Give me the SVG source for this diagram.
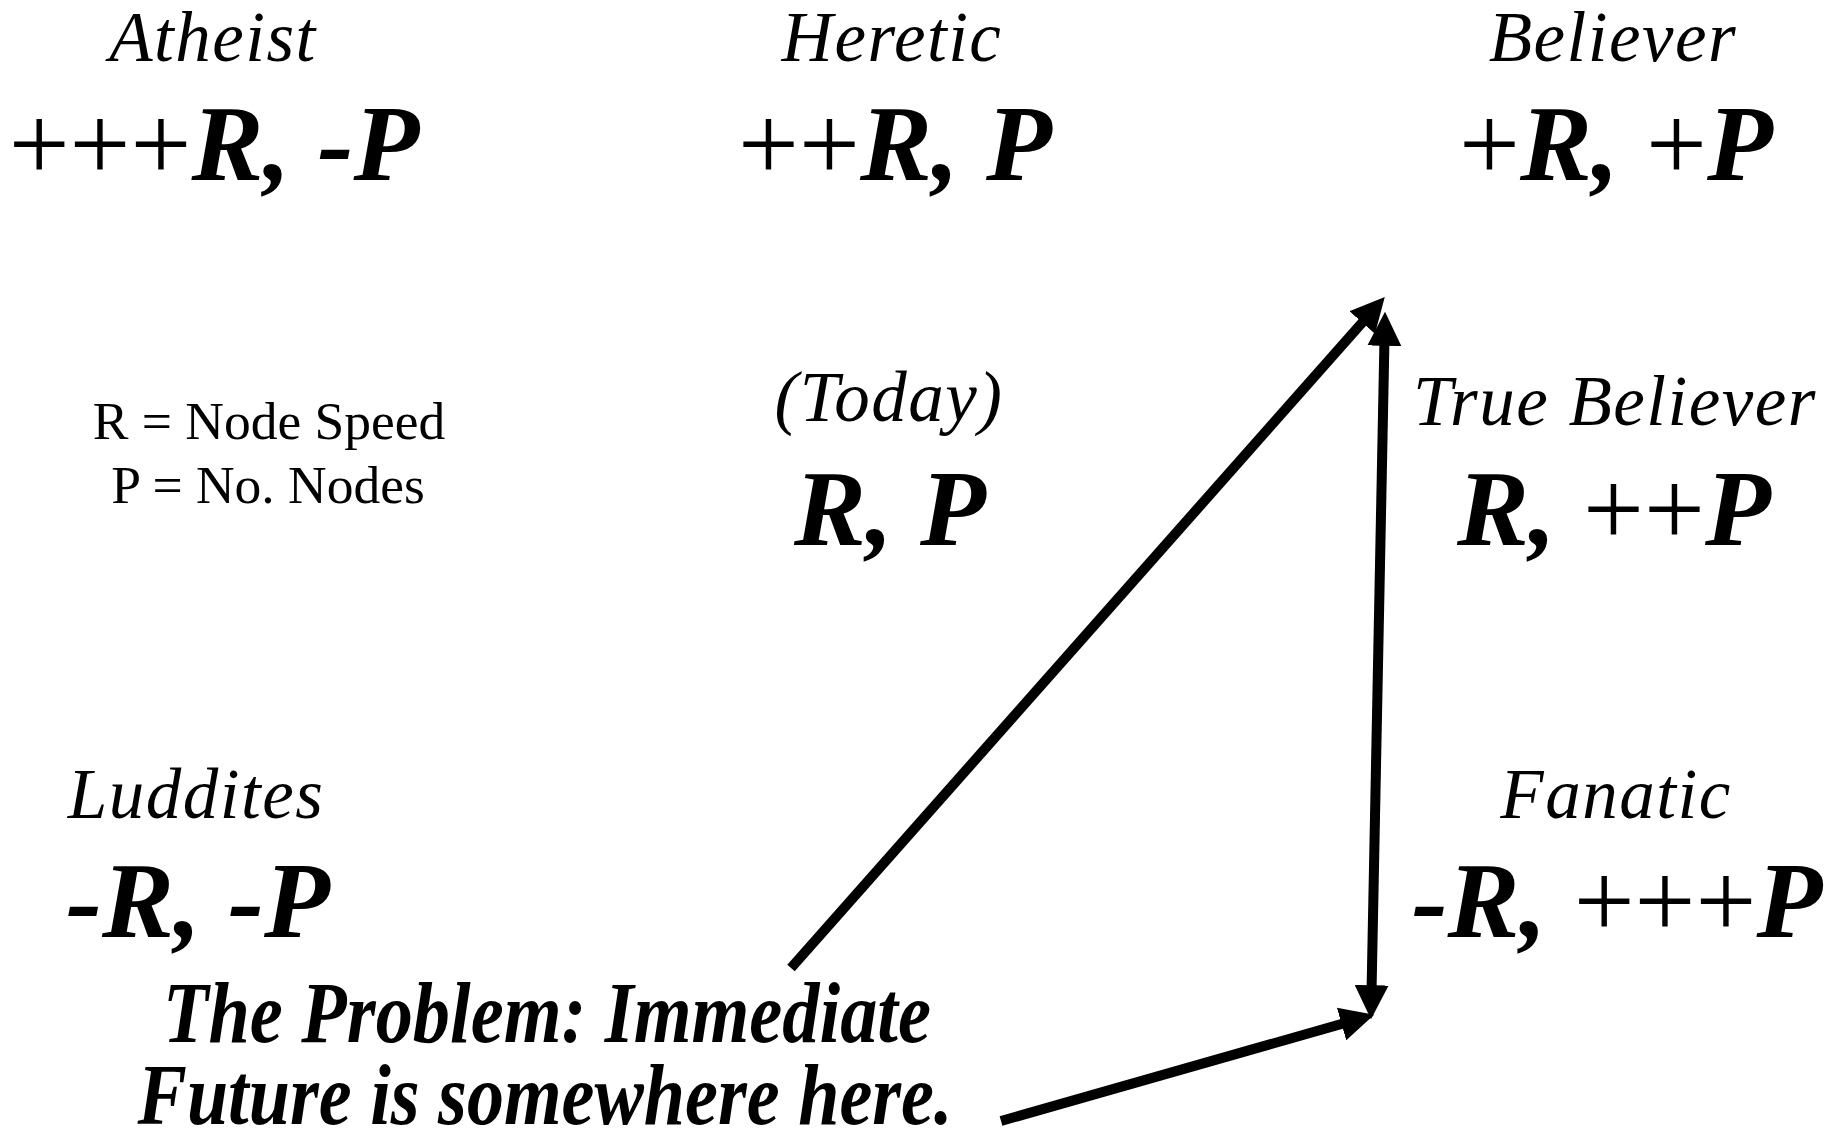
<svg xmlns="http://www.w3.org/2000/svg" width="1825" height="1137" viewBox="0 0 1825 1137">
<style>
text{font-family:"Liberation Serif","Times New Roman",serif;fill:#000;text-anchor:middle}
.lbl{font-style:italic;font-size:71px;letter-spacing:1.5px}
.val{font-size:108px}
.b{font-weight:bold;font-style:italic}
.key{font-size:53.5px}
.prob{font-size:86px;font-weight:bold;font-style:italic}
.conn{stroke:#000;stroke-width:10;fill:none}
</style>
<defs>
<marker id="ah" markerUnits="userSpaceOnUse" markerWidth="34" markerHeight="34" viewBox="0 0 32 32" refX="12" refY="16" orient="auto-start-reverse">
<path d="M0,0 L32,16 L0,32 z" fill="#000"/>
</marker>
</defs>
<rect width="1825" height="1137" fill="#fff"/>
<g id="atheist">
<text class="lbl" x="213" y="61">Atheist</text>
<text class="val" x="214" y="180">+++<tspan class="b">R, -P</tspan></text>
</g>
<g id="heretic">
<text class="lbl" x="892" y="61">Heretic</text>
<text class="val" x="895" y="180">++<tspan class="b">R, P</tspan></text>
</g>
<g id="believer">
<text class="lbl" x="1613" y="61">Believer</text>
<text class="val" x="1616" y="180">+<tspan class="b">R, </tspan>+<tspan class="b">P</tspan></text>
</g>
<g id="key">
<text class="key" x="269" y="439">R = Node Speed</text>
<text class="key" x="268" y="503">P = No. Nodes</text>
</g>
<g id="today">
<text class="lbl" x="889" y="421">(Today)</text>
<text class="val b" x="890" y="545">R, P</text>
</g>
<g id="true-believer">
<text class="lbl" x="1615" y="425">True Believer</text>
<text class="val" x="1614" y="545"><tspan class="b">R, </tspan>++<tspan class="b">P</tspan></text>
</g>
<g id="luddites">
<text class="lbl" x="196" y="818">Luddites</text>
<text class="val b" x="198" y="937">-R, -P</text>
</g>
<g id="fanatic">
<text class="lbl" x="1616" y="818">Fanatic</text>
<text class="val" x="1617" y="937"><tspan class="b">-R, </tspan>+++<tspan class="b">P</tspan></text>
</g>
<g id="problem">
<text class="prob" x="547" y="1042" textLength="768" lengthAdjust="spacingAndGlyphs">The Problem: Immediate</text>
<text class="prob" x="545" y="1124" textLength="815" lengthAdjust="spacingAndGlyphs">Future is somewhere here.</text>
</g>
<g id="connectors">
<line class="conn" x1="791" y1="968" x2="1370.7" y2="313" marker-end="url(#ah)"/>
<line class="conn" x1="1384.6" y1="333" x2="1371.4" y2="998" marker-start="url(#ah)" marker-end="url(#ah)"/>
<line class="conn" x1="1001" y1="1121" x2="1353.8" y2="1020.5" marker-end="url(#ah)"/>
</g>
</svg>
